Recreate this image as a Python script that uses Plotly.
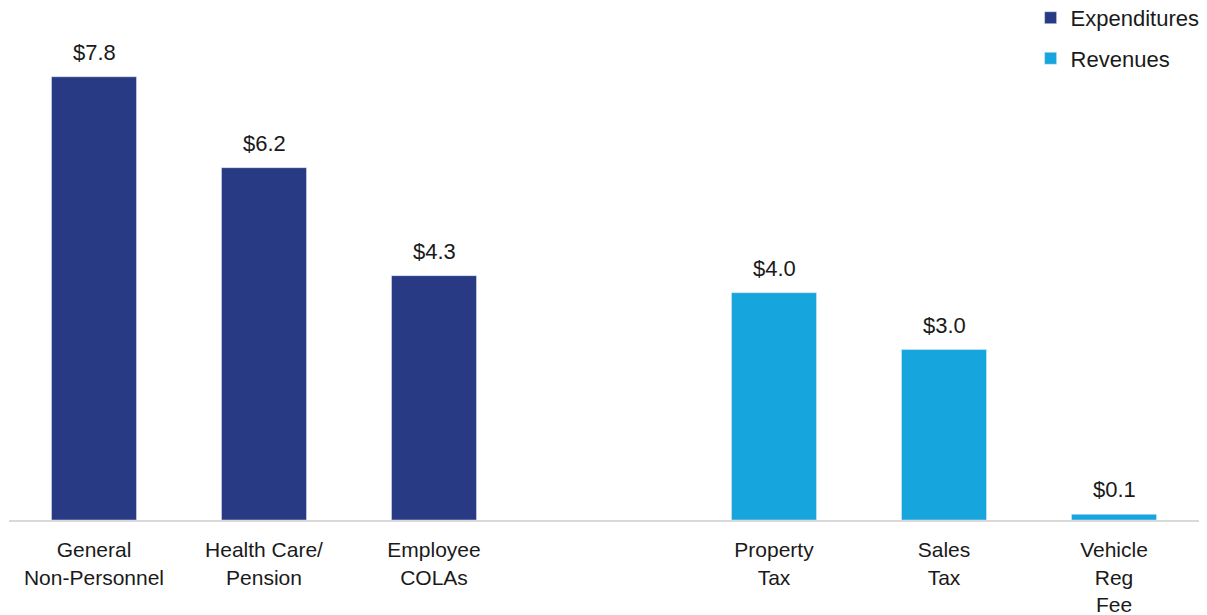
import plotly.graph_objects as go

categories = ["General<br>Non-Personnel", "Health Care/<br>Pension", "Employee<br>COLAs", " ",
              "Property<br>Tax", "Sales<br>Tax", "Vehicle<br>Reg<br>Fee"]
exp_cats = ["General<br>Non-Personnel", "Health Care/<br>Pension", "Employee<br>COLAs"]
exp_vals = [7.8, 6.2, 4.3]
rev_cats = ["Property<br>Tax", "Sales<br>Tax", "Vehicle<br>Reg<br>Fee"]
rev_vals = [4.0, 3.0, 0.1]

NAVY = "#283A84"
BLUE = "#17A5DD"
FONT = "Liberation Sans, Arial, sans-serif"

fig = go.Figure()
fig.add_trace(go.Bar(x=exp_cats, y=exp_vals, name="Expenditures", marker_color=NAVY,
                     width=0.5, legendgroup="e"))
fig.add_trace(go.Bar(x=rev_cats, y=rev_vals, name="Revenues", marker_color=BLUE,
                     width=0.5, legendgroup="r"))

for cats, vals in [(exp_cats, exp_vals), (rev_cats, rev_vals)]:
    for c, v in zip(cats, vals):
        fig.add_annotation(x=c, y=v, text=f"${v:.1f}", showarrow=False, yanchor="bottom",
                           yshift=10, font=dict(size=22, color="#1a1a1a", family=FONT))

fig.update_layout(
    width=1207, height=615,
    margin=dict(l=9, r=8, t=0, b=95, autoexpand=False),
    paper_bgcolor="white", plot_bgcolor="white",
    barmode="overlay",
    font=dict(family=FONT, size=21, color="#1a1a1a"),
    showlegend=True,
    legend=dict(x=0.8585, y=1.006, xanchor="left", yanchor="top", traceorder="grouped",
                tracegroupgap=9, font=dict(size=22, family=FONT), itemwidth=30,
                bgcolor="rgba(0,0,0,0)"),
    xaxis=dict(type="category", categoryorder="array", categoryarray=categories,
               showline=True, linecolor="#D9D9D9", linewidth=2, ticks="",
               ticklabelstandoff=10,
               showgrid=False, tickfont=dict(size=21, family=FONT)),
    yaxis=dict(range=[0, 9.15], visible=False, showgrid=False, zeroline=False),
)

fig.write_html("out.html")
